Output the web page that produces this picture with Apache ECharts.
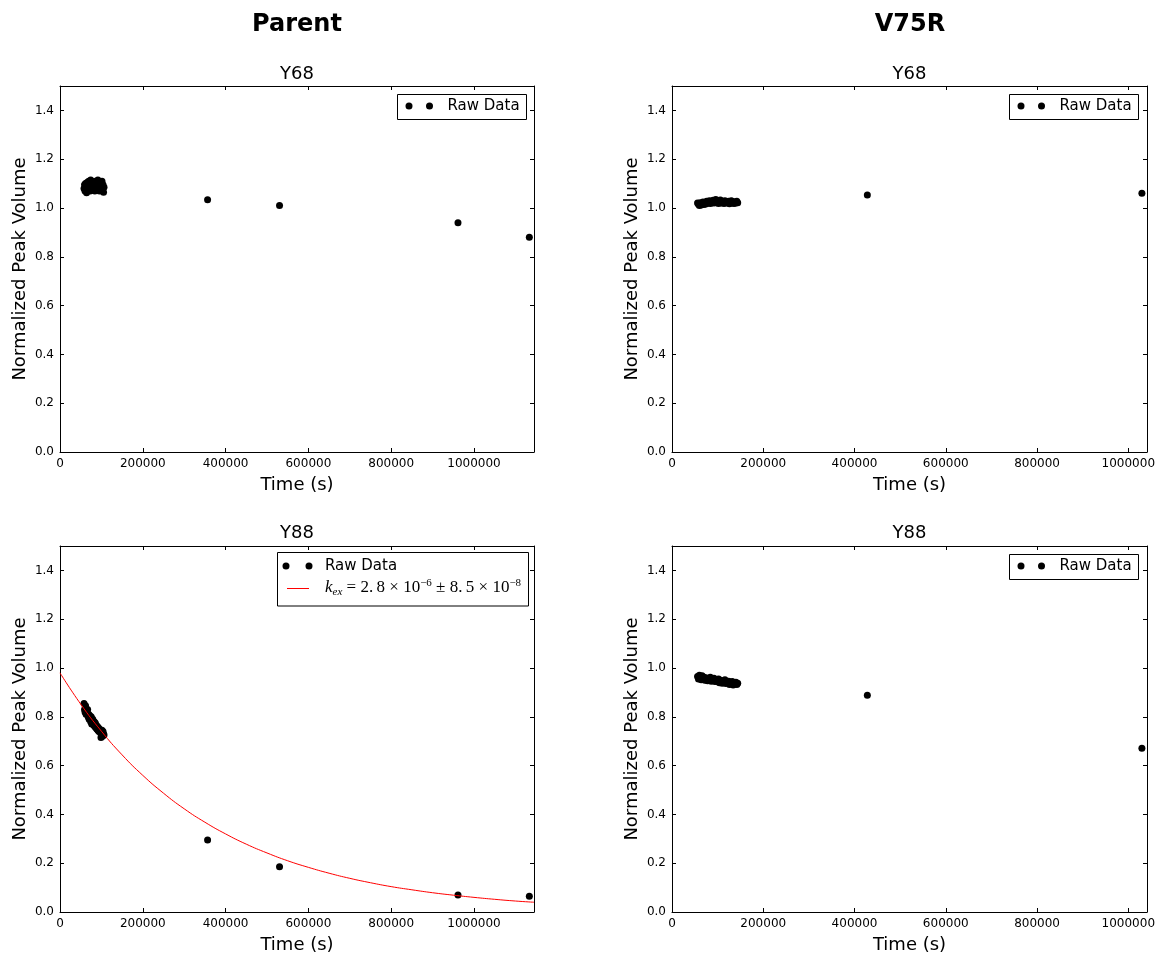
<!DOCTYPE html>
<html><head><meta charset="utf-8">
<script src="https://cdn.jsdelivr.net/npm/echarts@6/dist/echarts.min.js"></script>
<style>html,body{margin:0;padding:0;background:#fff}#c{width:1159px;height:955px}</style>
</head><body><div id="c"></div>
<script>
// ---- Data ----
const parentTime = [58000, 59300, 60500, 61700, 63000, 64200, 65500, 66700, 68000, 69200,
  70400, 71700, 72900, 74200, 75400, 76600, 77900, 79100, 80400, 81600,
  82800, 84100, 85300, 86600, 87800, 89000, 90300, 91500, 92800, 94000,
  95200, 96500, 97700, 99000, 100200, 101400, 102700, 103900, 105200, 106300,
  356500, 530300, 961400, 1133700];
const parentY68 = [1.08, 1.095, 1.07, 1.10, 1.085, 1.062, 1.105, 1.09, 1.075, 1.11,
  1.08, 1.095, 1.07, 1.115, 1.085, 1.10, 1.075, 1.09, 1.105, 1.08,
  1.095, 1.07, 1.11, 1.085, 1.10, 1.075, 1.09, 1.115, 1.08, 1.095,
  1.07, 1.105, 1.085, 1.09, 1.075, 1.11, 1.08, 1.095, 1.065, 1.085,
  1.034, 1.010, 0.940, 0.880];
const parentY88 = [0.855, 0.83, 0.82, 0.845, 0.81, 0.825, 0.815, 0.83, 0.80, 0.81,
  0.79, 0.805, 0.795, 0.78, 0.80, 0.77, 0.785, 0.79, 0.775, 0.765,
  0.78, 0.76, 0.775, 0.755, 0.765, 0.75, 0.76, 0.745, 0.755, 0.74,
  0.75, 0.745, 0.735, 0.715, 0.73, 0.745, 0.72, 0.74, 0.73, 0.725,
  0.295, 0.185, 0.070, 0.065];
const v75rTime = [56000, 58000, 60000, 62000, 64000, 66000, 68000, 70000, 72000, 74000,
  76000, 78000, 80000, 82000, 84000, 86000, 88000, 90000, 92000, 94000,
  96000, 98000, 100000, 102000, 104000, 106000, 108000, 110000, 112000, 114000,
  116000, 118000, 120000, 122000, 124000, 126000, 128000, 130000, 132000, 134000,
  136000, 138000, 140000, 142000, 144000,
  428100, 1029800];
const v75rY68 = [1.02, 1.015, 1.01, 1.022, 1.012, 1.018, 1.025, 1.014, 1.02, 1.016,
  1.028, 1.019, 1.024, 1.03, 1.018, 1.026, 1.022, 1.032, 1.02, 1.027,
  1.035, 1.022, 1.03, 1.018, 1.026, 1.033, 1.021, 1.028, 1.024, 1.018,
  1.03, 1.022, 1.026, 1.02, 1.028, 1.017, 1.024, 1.03, 1.021, 1.026,
  1.018, 1.025, 1.02, 1.028, 1.022,
  1.053, 1.060];
const v75rY88 = [0.965, 0.955, 0.97, 0.96, 0.952, 0.968, 0.958, 0.962, 0.95, 0.96,
  0.955, 0.948, 0.958, 0.952, 0.962, 0.946, 0.955, 0.95, 0.958, 0.945,
  0.952, 0.948, 0.944, 0.955, 0.94, 0.95, 0.945, 0.938, 0.948, 0.942,
  0.952, 0.936, 0.944, 0.94, 0.946, 0.932, 0.942, 0.938, 0.945, 0.93,
  0.94, 0.935, 0.942, 0.932, 0.938,
  0.888, 0.671];
const fitTime = [0, 50000, 100000, 150000, 200000, 250000, 300000, 350000, 400000, 450000,
  500000, 550000, 600000, 650000, 700000, 750000, 800000, 850000, 900000, 950000,
  1000000, 1050000, 1100000, 1145000];
const fitValue = [0.980, 0.852, 0.741, 0.644, 0.560, 0.487, 0.423, 0.368, 0.320, 0.278,
  0.242, 0.210, 0.183, 0.159, 0.138, 0.120, 0.104, 0.091, 0.079, 0.069,
  0.060, 0.052, 0.045, 0.040];
const columnTitles = ['Parent', 'V75R'];
const panelTitles = ['Y68', 'Y68', 'Y88', 'Y88'];
const xMaxParent = 1145000, xMaxV75R = 1041000;
const yTicks = { min: 0, max: 1.5, interval: 0.2 };
const xInterval = 200000;

// ---- Layout ----
const F = 'DejaVu Sans';
const grids = [
  { left: 60, top: 86, width: 474, height: 366 },
  { left: 672, top: 86, width: 475, height: 366 },
  { left: 60, top: 546, width: 474, height: 366 },
  { left: 672, top: 546, width: 475, height: 366 }
];
const xMaxes = [xMaxParent, xMaxV75R, xMaxParent, xMaxV75R];
const zip = (a, b) => a.map((v, i) => [v, b[i]]);

const tick = { show: true, inside: true, length: 4, lineStyle: { color: '#000', width: 1 } };
const line = { show: true, onZero: false, lineStyle: { color: '#000', width: 1 } };
const xAxis = [], yAxis = [];
grids.forEach((g, i) => {
  xAxis.push({ gridIndex: i, type: 'value', position: 'bottom', min: 0, max: xMaxes[i], interval: xInterval,
    axisLine: line, axisTick: tick, splitLine: { show: false },
    axisLabel: { show: true, margin: 6, fontFamily: F, fontSize: 12, color: '#000', showMaxLabel: false,
      formatter: v => String(Math.round(v)) },
    name: 'Time (s)', nameLocation: 'middle', nameGap: 24,
    nameTextStyle: { fontFamily: F, fontSize: 18, color: '#000' } });
  xAxis.push({ gridIndex: i, type: 'value', position: 'top', min: 0, max: xMaxes[i], interval: xInterval,
    axisLine: line, axisTick: tick, splitLine: { show: false }, axisLabel: { show: false } });
  yAxis.push({ gridIndex: i, type: 'value', position: 'left', min: yTicks.min, max: yTicks.max, interval: yTicks.interval,
    axisLine: line, axisTick: tick, splitLine: { show: false },
    axisLabel: { show: true, margin: 6, fontFamily: F, fontSize: 12, color: '#000', showMaxLabel: false,
      formatter: v => v.toFixed(1) },
    name: 'Normalized Peak Volume', nameLocation: 'middle', nameGap: 31,
    nameTextStyle: { fontFamily: F, fontSize: 18, color: '#000' } });
  yAxis.push({ gridIndex: i, type: 'value', position: 'right', min: yTicks.min, max: yTicks.max, interval: yTicks.interval,
    axisLine: line, axisTick: tick, splitLine: { show: false }, axisLabel: { show: false } });
});

const scat = (i, data) => ({ type: 'scatter', xAxisIndex: 2 * i, yAxisIndex: 2 * i, data,
  symbol: 'circle', symbolSize: 7, itemStyle: { color: '#000', opacity: 1 }, z: 2, silent: true });

const series = [
  scat(0, zip(parentTime, parentY68)),
  scat(1, zip(v75rTime, v75rY68)),
  scat(2, zip(parentTime, parentY88)),
  scat(3, zip(v75rTime, v75rY88)),
  { type: 'line', xAxisIndex: 4, yAxisIndex: 4, data: zip(fitTime, fitValue), smooth: true,
    showSymbol: false, symbol: 'none', lineStyle: { color: '#ff0000', width: 1 }, z: 3, silent: true }
];

// ---- Titles and legends (graphic) ----
const graphic = [];
const txt = (x, y, text, font) => ({ type: 'text', x, y, silent: true,
  style: { text, font, fill: '#000', textAlign: 'center', textVerticalAlign: 'middle' } });
graphic.push(txt(297, 25, columnTitles[0], 'bold 24px ' + F));
graphic.push(txt(910, 25, columnTitles[1], 'bold 24px ' + F));
graphic.push(txt(297, 74, panelTitles[0], '18px ' + F));
graphic.push(txt(909.5, 74, panelTitles[1], '18px ' + F));
graphic.push(txt(297, 533, panelTitles[2], '18px ' + F));
graphic.push(txt(909.5, 533, panelTitles[3], '18px ' + F));

function rawLegend(x, y, w, h, m1, m2, tx, cy) {
  graphic.push({ type: 'rect', shape: { x, y, width: w, height: h }, silent: true,
    style: { fill: '#fff', stroke: '#000', lineWidth: 1 }, z: 10 });
  graphic.push({ type: 'circle', shape: { cx: m1, cy, r: 3.5 }, style: { fill: '#000' }, z: 11, silent: true });
  graphic.push({ type: 'circle', shape: { cx: m2, cy, r: 3.5 }, style: { fill: '#000' }, z: 11, silent: true });
  graphic.push({ type: 'text', x: tx, y: cy, z: 11, silent: true,
    style: { text: 'Raw Data', font: '15px ' + F, fill: '#000', textAlign: 'left', textVerticalAlign: 'middle' } });
}
rawLegend(397.5, 94.5, 129, 25, 409, 429.5, 447.5, 106);
rawLegend(1009.5, 94.5, 129, 25, 1021, 1041.5, 1059.5, 106);
rawLegend(1009.5, 554.5, 129, 25, 1021, 1041.5, 1059.5, 566);
// bottom-left legend with fit line
rawLegend(277.5, 552.5, 251, 53.5, 286, 309, 325, 566);
graphic.push({ type: 'line', shape: { x1: 287, y1: 588.5, x2: 309, y2: 588.5 }, silent: true,
  style: { stroke: '#ff0000', lineWidth: 1 }, z: 11 });
const S = 'Liberation Serif';
graphic.push({ type: 'text', x: 325, y: 588, z: 11, silent: true,
  style: {
    text: '{k|k}{sub|ex}{n| = 2.\u20098 × 10}{sup|−6}{n| ± 8.\u20095 × 10}{sup|−8}',
    textAlign: 'left', textVerticalAlign: 'middle',
    rich: {
      k: { fontFamily: S, fontStyle: 'italic', fontSize: 17, lineHeight: 20, verticalAlign: 'middle', color: '#000' },
      n: { fontFamily: S, fontSize: 17, lineHeight: 20, verticalAlign: 'middle', color: '#000' },
      sub: { fontFamily: S, fontStyle: 'italic', fontSize: 11, lineHeight: 10, verticalAlign: 'bottom', color: '#000' },
      sup: { fontFamily: S, fontSize: 11, lineHeight: 10, verticalAlign: 'top', color: '#000' }
    }
  } });

const chart = echarts.init(document.getElementById('c'), null, { renderer: 'canvas' });
chart.setOption({
  animation: false,
  backgroundColor: '#fff',
  grid: grids.map(g => Object.assign({ containLabel: false }, g)),
  xAxis, yAxis, series, graphic
});
</script></body></html>
